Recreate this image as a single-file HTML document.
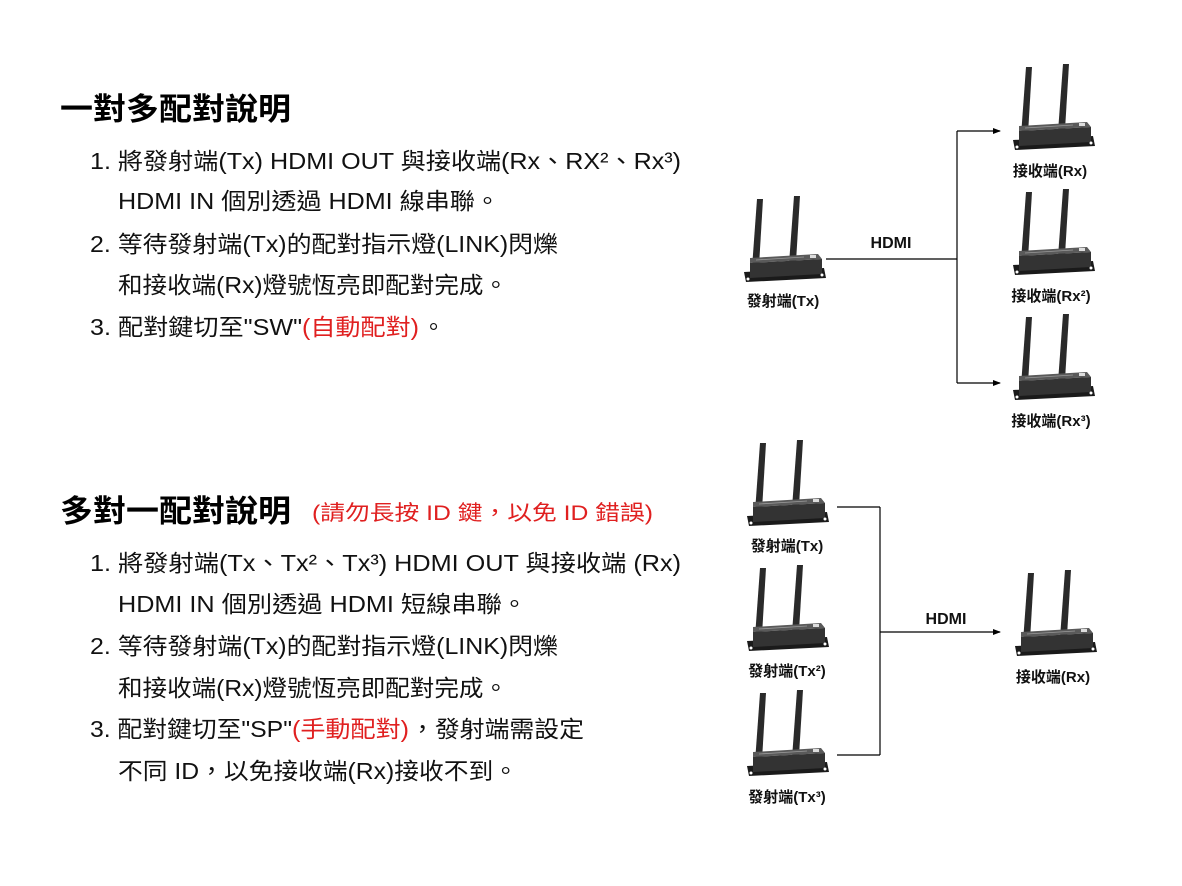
<!DOCTYPE html>
<html><head><meta charset="utf-8"><style>
html,body{margin:0;padding:0;background:#fff;}
svg{display:block;}
text{font-family:"Liberation Sans","Noto Sans CJK TC",sans-serif;}
</style></head><body>
<svg width="1182" height="886" viewBox="0 0 1182 886" xmlns="http://www.w3.org/2000/svg">
<defs>
<g id="dev">
  <polygon points="8,72 13,3 19,3 15,70" fill="#2a2a2a"/>
  <polygon points="45,68 50,0 56,0 52,66" fill="#2a2a2a"/>
  <polygon points="0,76 80,72 82,82 2,86" fill="#1a1a1a"/>
  <polygon points="6,62 74,58 78,63 6,67" fill="#5a5a5a"/>
  <polygon points="6,67 78,63 78,78 6,82" fill="#333"/>
  <rect x="66" y="59" width="6" height="3" fill="#ddd"/>
  <line x1="12" y1="64" x2="60" y2="61" stroke="#999" stroke-width="0.8"/>
  <circle cx="4" cy="83" r="1.5" fill="#fff"/>
  <circle cx="78" cy="79" r="1.5" fill="#fff"/>
</g>
<marker id="ar" markerWidth="8" markerHeight="8" refX="7" refY="4" orient="auto" markerUnits="userSpaceOnUse">
  <path d="M0,1 L8,4 L0,7 z" fill="#000"/>
</marker>
</defs>

<!-- Section 1 text -->
<text x="60" y="120" font-size="31" font-weight="bold" textLength="231" lengthAdjust="spacingAndGlyphs">一對多配對說明</text>
<g font-size="23" fill="#111">
<text x="90" y="169" textLength="591" lengthAdjust="spacingAndGlyphs">1. 將發射端(Tx) HDMI OUT 與接收端(Rx、RX²、Rx³)</text>
<text x="118" y="209" textLength="382" lengthAdjust="spacingAndGlyphs">HDMI IN 個別透過 HDMI 線串聯。</text>
<text x="90" y="252" textLength="468" lengthAdjust="spacingAndGlyphs">2. 等待發射端(Tx)的配對指示燈(LINK)閃爍</text>
<text x="118" y="293" textLength="390" lengthAdjust="spacingAndGlyphs">和接收端(Rx)燈號恆亮即配對完成。</text>
<text x="90" y="335" textLength="212" lengthAdjust="spacingAndGlyphs">3. 配對鍵切至"SW"</text>
<text x="302" y="335" fill="#e02020" textLength="117" lengthAdjust="spacingAndGlyphs">(自動配對)</text>
<text x="422" y="335">。</text>
</g>

<!-- Section 2 text -->
<text x="60" y="522" font-size="31" font-weight="bold" textLength="231" lengthAdjust="spacingAndGlyphs">多對一配對說明</text>
<text x="312" y="520" font-size="21" fill="#e02020" textLength="341" lengthAdjust="spacingAndGlyphs">(請勿長按 ID 鍵，以免 ID 錯誤)</text>
<g font-size="23" fill="#111">
<text x="90" y="571" textLength="591" lengthAdjust="spacingAndGlyphs">1. 將發射端(Tx、Tx²、Tx³) HDMI OUT 與接收端  (Rx)</text>
<text x="118" y="612" textLength="409" lengthAdjust="spacingAndGlyphs">HDMI IN 個別透過 HDMI 短線串聯。</text>
<text x="90" y="654" textLength="468" lengthAdjust="spacingAndGlyphs">2. 等待發射端(Tx)的配對指示燈(LINK)閃爍</text>
<text x="118" y="696" textLength="390" lengthAdjust="spacingAndGlyphs">和接收端(Rx)燈號恆亮即配對完成。</text>
<text x="90" y="737" textLength="202" lengthAdjust="spacingAndGlyphs">3. 配對鍵切至"SP"</text>
<text x="292" y="737" fill="#e02020" textLength="117" lengthAdjust="spacingAndGlyphs">(手動配對)</text>
<text x="410" y="737" textLength="174" lengthAdjust="spacingAndGlyphs">，發射端需設定</text>
<text x="118" y="779" textLength="400" lengthAdjust="spacingAndGlyphs">不同 ID，以免接收端(Rx)接收不到。</text>
</g>

<!-- Diagram 1 -->
<use href="#dev" x="744" y="196"/>
<use href="#dev" x="1013" y="64"/>
<use href="#dev" x="1013" y="189"/>
<use href="#dev" x="1013" y="314"/>
<g font-size="15" font-weight="bold" text-anchor="middle" fill="#111">
<text x="783" y="306">發射端(Tx)</text>
<text x="1050" y="176">接收端(Rx)</text>
<text x="1051" y="301">接收端(Rx²)</text>
<text x="1051" y="426">接收端(Rx³)</text>
<text x="891" y="248" font-size="16">HDMI</text>
</g>
<g stroke="#000" stroke-width="1.2" fill="none">
<line x1="826" y1="259" x2="957" y2="259"/>
<line x1="957" y1="131" x2="957" y2="383"/>
<line x1="957" y1="131" x2="1000" y2="131" marker-end="url(#ar)"/>
<line x1="957" y1="383" x2="1000" y2="383" marker-end="url(#ar)"/>
</g>

<!-- Diagram 2 -->
<use href="#dev" x="747" y="440"/>
<use href="#dev" x="747" y="565"/>
<use href="#dev" x="747" y="690"/>
<use href="#dev" x="1015" y="570"/>
<g font-size="15" font-weight="bold" text-anchor="middle" fill="#111">
<text x="787" y="551">發射端(Tx)</text>
<text x="787" y="676">發射端(Tx²)</text>
<text x="787" y="802">發射端(Tx³)</text>
<text x="1053" y="682">接收端(Rx)</text>
<text x="946" y="624" font-size="16">HDMI</text>
</g>
<g stroke="#000" stroke-width="1.2" fill="none">
<line x1="837" y1="507" x2="880" y2="507"/>
<line x1="880" y1="507" x2="880" y2="755"/>
<line x1="837" y1="755" x2="880" y2="755"/>
<line x1="880" y1="632" x2="1000" y2="632" marker-end="url(#ar)"/>
</g>
</svg>
</body></html>
